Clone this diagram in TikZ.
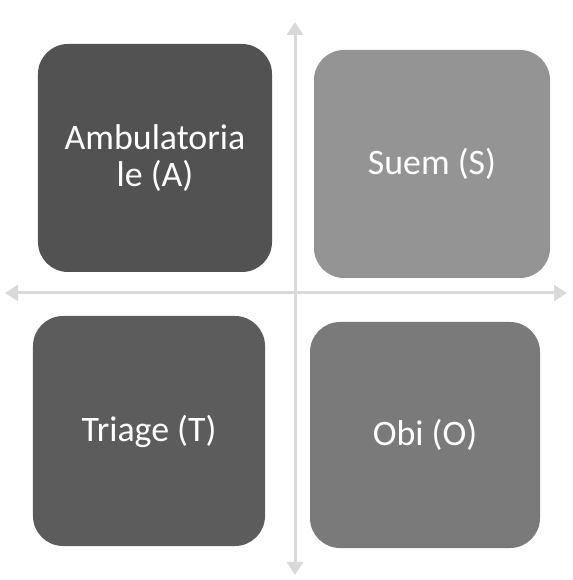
\documentclass[tikz,border=0pt]{standalone}
\usepackage{fontspec}
\setmainfont{Carlito}
\usetikzlibrary{arrows.meta}
\begin{document}
\begin{tikzpicture}[x=1bp, y=1bp,
    box/.style={rounded corners=30bp, inner sep=0pt, text=white, align=center,
        font=\fontsize{36}{37}\selectfont},
    axe/.style={draw=gray!30, line width=3bp,
        {Triangle[width=16bp,length=13bp]}-{Triangle[width=16bp,length=13bp]}}]
\useasboundingbox (0,0) rectangle (573,580);
% axes
\coordinate (top) at (295,558);
\coordinate (bot) at (295,5);
\coordinate (lft) at (5,287);
\coordinate (rgt) at (567,287);
\draw[axe] (bot) -- (top);
\draw[axe] (lft) -- (rgt);
% quadrants
\node[box, fill=black!68, minimum width=234bp, minimum height=228bp] (amb) at (155,422) {Ambulatoria\\le (A)};
\node[box, fill=black!42, minimum width=236bp, minimum height=228bp] (suem) at (432,416) {Suem (S)};
\node[box, fill=black!64, minimum width=232bp, minimum height=230bp] (tri) at (149,149) {Triage (T)};
\node[box, fill=black!52, minimum width=230bp, minimum height=226bp] (obi) at (425,145) {Obi (O)};
\end{tikzpicture}
\end{document}
